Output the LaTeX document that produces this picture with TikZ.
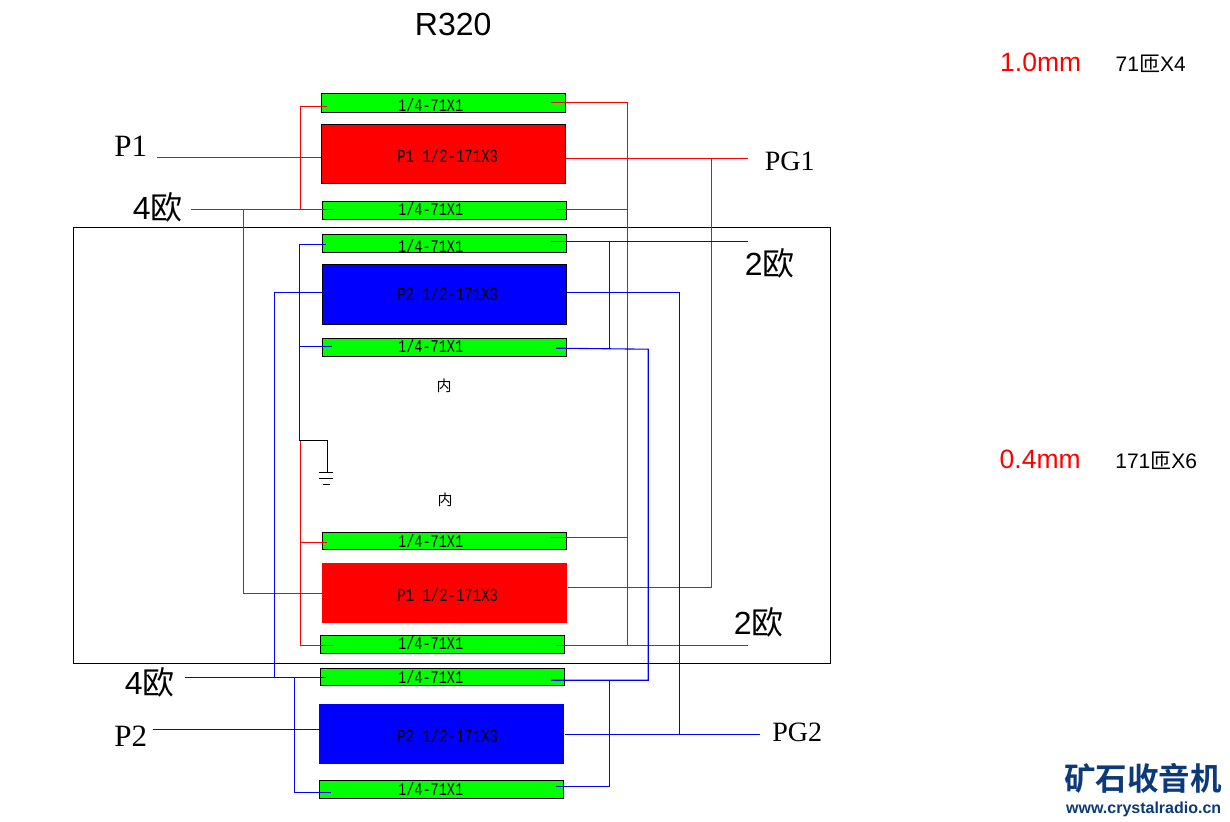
\documentclass[tikz,border=0pt]{standalone}
\usepackage{fontspec}
\setmainfont{Liberation Serif}
\setsansfont{Liberation Sans}
\setmonofont{Liberation Mono}
\newfontfamily\cjk{Noto Sans CJK SC}
\newfontfamily\cjkbold{Noto Sans CJK SC Bold}
\newfontfamily\boxfont[FakeStretch=0.76]{Liberation Mono}
\newcommand{\fsz}[1]{\fontsize{#1}{#1}\selectfont}
\tikzset{
  part/.style={rectangle,anchor=north west,inner sep=0pt,minimum width=#1},
  part/.default=244pt,
  gres/.style={part,draw=black,line width=1pt,fill=green,minimum height=18pt},
  rres/.style={part,fill=red,minimum height=60pt},
  bres/.style={part,fill=blue,minimum height=60pt},
  valtext/.style={inner sep=0pt,font=\boxfont\fsz{17.8}},
  maintext/.style={inner sep=0pt,font=\boxfont\fsz{18.4}},
  rwire/.style={draw=red,line width=1.1pt,line join=miter},
  bwire/.style={draw=blue,line width=1.1pt,line join=miter},
  kwire/.style={draw=black,line width=1pt},
  seriflabel/.style={inner sep=0pt,font=\rmfamily\fsz{31}},
  pglabel/.style={inner sep=0pt,font=\rmfamily\fsz{28}},
  ohmlabel/.style={inner sep=0pt,font=\sffamily\fsz{32}},
  notelabel/.style={inner sep=0pt,font=\sffamily\fsz{21}},
  mmlabel/.style={inner sep=0pt,text=red,font=\sffamily\fsz{26.5}},
  innerlabel/.style={inner sep=0pt,font=\cjk\fsz{15}},
}
\definecolor{wmark}{RGB}{12,58,120}
\begin{document}
\begin{tikzpicture}[x=1pt,y=-1pt]
\useasboundingbox (0,0) rectangle (1230,821);
\begin{scope}[shift={(0.2,0.2)}]
% outer frame
\node[part=757pt,draw=black,line width=1pt,minimum height=436pt] (frame) at (73,227) {};
% boxes
\node[gres,minimum height=19pt] (g1) at (321,93) {};
\node[rres,draw=black,line width=1pt,minimum height=59pt] (r1) at (321,124) {};
\node[gres] (g2) at (322,201) {};
\node[gres] (g3) at (322,234) {};
\node[bres,draw=black,line width=1pt] (b1) at (322,264) {};
\node[gres] (g4) at (322,338) {};
\node[gres,minimum height=17pt] (g5) at (322,532) {};
\node[rres,part=245pt] (r2) at (322,563) {};
\node[gres] (g6) at (320,635) {};
\node[gres,minimum height=17pt] (g7) at (320,668) {};
\node[bres,part=245pt] (b2) at (319,704) {};
\node[gres] (g8) at (319,780) {};
% box texts
\foreach \n/\ya in {t1/105,t2/209,t3/246,t4/346,t5/541,t6/643,t7/677,t8/789}
  \node[valtext] (\n) at (430.5,\ya) {1/4-71X1};
\node[maintext] (tr1) at (447.5,156) {P1 1/2-171X3};
\node[maintext] (tb1) at (447.5,294) {P2 1/2-171X3};
\node[maintext] (tr2) at (447.5,595) {P1 1/2-171X3};
\node[maintext] (tb2) at (447.5,736) {P2 1/2-171X3};
% labels
\node[inner sep=0pt,font=\sffamily\fsz{32}] (title) at (453,24) {R320};
\node[seriflabel] (p1) at (130.5,146) {P1};
\node[seriflabel] (p2) at (130.5,736) {P2};
\node[pglabel] (pg1) at (789.5,161) {PG1};
\node[pglabel] (pg2) at (797,732) {PG2};
\node[ohmlabel] (o4a) at (157.5,207) {4{\cjk 欧}};
\node[ohmlabel] (o4b) at (149.5,682) {4{\cjk 欧}};
\node[ohmlabel] (o2a) at (769.5,263) {2{\cjk 欧}};
\node[ohmlabel] (o2b) at (758.5,622) {2{\cjk 欧}};
\node[mmlabel] (mm1) at (1040.5,62) {1.0mm};
\node[mmlabel] (mm2) at (1040,459) {0.4mm};
\node[notelabel] (n1) at (1150.5,64) {71{\cjk 匝}X4};
\node[notelabel] (n2) at (1156,461) {171{\cjk 匝}X6};
\node[innerlabel] (in1) at (444,386) {内};
\node[innerlabel] (in2) at (445,500) {内};
\node[inner sep=0pt,text=wmark,font=\cjkbold\fsz{31.5}] (wm1) at (1143,778) {矿石收音机};
\node[inner sep=0pt,text=wmark,font=\sffamily\bfseries\fsz{16}] (wm2) at (1143.5,809) {www.crystalradio.cn};
% wire end coordinates
\coordinate (p1e) at (157,157);
\coordinate (o4ae) at (191,209);
\coordinate (g1l) at (327,106);
\coordinate (g1r) at (551,102);
\coordinate (g2l) at (333,209);
\coordinate (g2r) at (556,209);
\coordinate (g5l) at (327,542);
\coordinate (g5r) at (551,537);
\coordinate (g6l) at (333,645);
\coordinate (g6r) at (556,645);
\coordinate (g3l) at (326,244);
\coordinate (g3r) at (551,241);
\coordinate (g4l) at (332,346);
\coordinate (g4r) at (556,348);
\coordinate (g7l) at (326,677);
\coordinate (g7r) at (551,680);
\coordinate (g8l) at (331,792);
\coordinate (g8r) at (556,786);
\coordinate (o4be) at (185,677);
\coordinate (p2e) at (153,729);
\coordinate (pg1e) at (748,158);
\coordinate (pg2e) at (760,734);
\coordinate (o2ae) at (748,241);
\coordinate (o2be) at (748,645);
\coordinate (gnd) at (299,440);
% red wires
\draw[rwire] (p1e) -- (r1.west |- p1e);
\draw[rwire] (o4ae) -- (g2l);
\draw[rwire] (g1l) -- (300,106) -- (300,209);
\draw[rwire] (g1r) -- (627,102) -- (627,645);
\draw[rwire] (g2r) -- (627,209);
\draw[rwire] (g5r) -- (627,537);
\draw[rwire] (g6r) -- (o2be);
\draw[rwire] (r1.east |- pg1e) -- (pg1e);
\draw[rwire] (711,158) -- (711,587) -- (r2.east |- 0,587);
\draw[rwire] (243,209) -- (243,593) -- (r2.west |- 0,593);
\draw[rwire] (300,440) -- (300,645) -- (g6l);
\draw[rwire] (300,542) -- (g5l);
% blue wires
\draw[bwire] (g3l) -- (299,244) -- (gnd);
\draw[bwire] (299,346) -- (g4l);
\draw[bwire] (g3r) -- (o2ae);
\draw[bwire] (609,241) -- (609,348);
\draw[bwire] (g4r) -- (648,349) -- (648,680) -- (g7r);
\draw[bwire] (b1.west |- 0,292) -- (274,292) -- (274,677);
\draw[bwire] (b1.east |- 0,292) -- (679,292) -- (679,734);
\draw[bwire] (o4be) -- (g7l);
\draw[bwire] (294,677) -- (294,792) -- (g8l);
\draw[bwire] (609,680) -- (609,786) -- (g8r);
\draw[bwire] (p2e) -- (b2.west |- p2e);
\draw[bwire] (b2.east |- pg2e) -- (pg2e);
% ground
\draw[kwire] (gnd) -- (327,440) -- (327,472);
\draw[kwire] (319,472) -- (333,472);
\draw[kwire] (319,478) -- (333,478);
\draw[kwire] (323,484) -- (330,484);
\end{scope}
\end{tikzpicture}
\end{document}
